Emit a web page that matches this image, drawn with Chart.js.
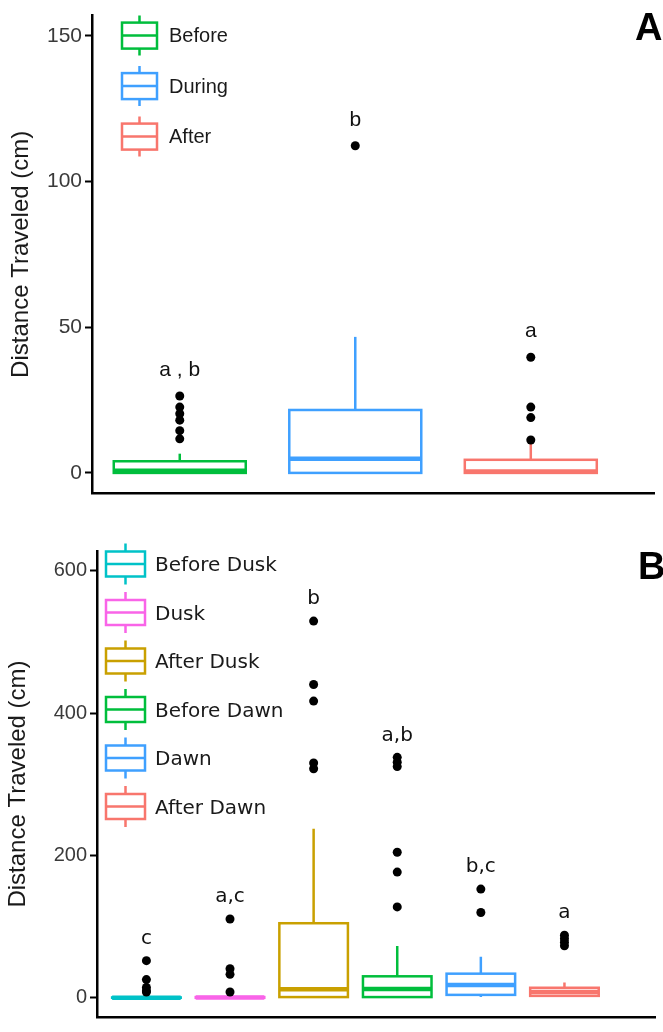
<!DOCTYPE html>
<html><head><meta charset="utf-8">
<script src="https://cdn.jsdelivr.net/npm/chart.js@4.4.1/dist/chart.umd.min.js"></script>
<style>
html,body{margin:0;padding:0;background:#fff;}
#wa{position:absolute;left:0;top:0;width:663px;height:510px;}
#wb{position:absolute;left:0;top:520px;width:663px;height:512px;}
</style></head><body>
<div id="wa"><canvas id="ca"></canvas></div>
<div id="wb"><canvas id="cb"></canvas></div>
<script>
// ---------- Panel A data ----------
const categoriesA = ['Before', 'During', 'After'];
const lowA    = [0, 0, 0];
const q1A     = [0, 0, 0];
const medianA = [0.7, 4.9, 0.5];
const q3A     = [4.0, 21.6, 4.5];
const highA   = [6.6, 46.7, 10];
const outliersA = [
  [26.4, 22.6, 20.3, 18.1, 14.5, 11.7],
  [112.3],
  [39.7, 22.6, 19.0, 11.3]
];
const lettersA = ['a , b', 'b', 'a'];
const ticksA = [0, 50, 100, 150];
const colorsA = ['#00BE3C', '#3FA0FF', '#F8766D'];

// ---------- Panel B data ----------
const categoriesB = ['Before Dusk', 'Dusk', 'After Dusk', 'Before Dawn', 'Dawn', 'After Dawn'];
const lowB    = [0, 0, 0, 0, 1, 2.7];
const q1B     = [0, 0, 1, 1, 4.1, 2.7];
const medianB = [0, 0.5, 12, 12.4, 17.9, 8];
const q3B     = [0.5, 1, 104.8, 30.2, 33.9, 14.1];
const highB   = [0.5, 1, 237.5, 72.8, 57.7, 21.5];
const outliersB = [
  [52.2, 25.6, 14.6, 10, 8],
  [110.8, 40.8, 33.0, 8.2],
  [529.5, 440.3, 417, 330, 322],
  [338, 331, 325, 204.6, 176.7, 127.7],
  [152.8, 119.9],
  [88, 83, 78, 73]
];
const lettersB = ['c', 'a,c', 'b', 'a,b', 'b,c', 'a'];
const ticksB = [0, 200, 400, 600];
const colorsB = ['#00C2C8', '#F964E8', '#C9A000', '#00BE3C', '#3FA0FF', '#F8766D'];

const yTitle = 'Distance Traveled (cm)';

function drawGlyph(ctx, x, yc, w, hb, ext, color) {
  ctx.save();
  ctx.strokeStyle = color;
  ctx.lineWidth = 2.5;
  ctx.strokeRect(x, yc - hb / 2, w, hb);
  ctx.beginPath();
  ctx.moveTo(x, yc); ctx.lineTo(x + w, yc);
  ctx.moveTo(x + w / 2, yc - hb / 2); ctx.lineTo(x + w / 2, yc - hb / 2 - ext);
  ctx.moveTo(x + w / 2, yc + hb / 2); ctx.lineTo(x + w / 2, yc + hb / 2 + ext);
  ctx.stroke();
  ctx.restore();
}

function boxPlugin(cfg) {
  return {
    id: 'boxes_' + cfg.id,
    beforeDatasetsDraw(chart) {
      const ctx = chart.ctx, xs = chart.scales.x, ys = chart.scales.y;
      ctx.save();
      for (let i = 0; i < cfg.cats.length; i++) {
        const c = xs.getPixelForValue(i + 1);
        const hw = xs.getPixelForValue(i + 1 + cfg.halfWidth) - c;
        const yq1 = ys.getPixelForValue(cfg.q1[i]);
        const yq3 = ys.getPixelForValue(cfg.q3[i]);
        const ym = ys.getPixelForValue(cfg.med[i]);
        const ylo = ys.getPixelForValue(cfg.low[i]);
        const yhi = ys.getPixelForValue(cfg.high[i]);
        ctx.strokeStyle = cfg.colors[i];
        ctx.lineWidth = 2.5;
        ctx.beginPath();
        ctx.moveTo(c, yq3); ctx.lineTo(c, yhi);
        ctx.moveTo(c, yq1); ctx.lineTo(c, ylo);
        ctx.stroke();
        ctx.fillStyle = '#fff';
        ctx.fillRect(c - hw, yq3, 2 * hw, yq1 - yq3);
        ctx.strokeRect(c - hw, yq3, 2 * hw, yq1 - yq3);
        ctx.lineWidth = 4.5;
        ctx.beginPath();
        ctx.moveTo(c - hw, ym); ctx.lineTo(c + hw, ym);
        ctx.stroke();
      }
      ctx.restore();
    },
    afterDatasetsDraw(chart) {
      const ctx = chart.ctx, xs = chart.scales.x, ys = chart.scales.y, area = chart.chartArea;
      ctx.save();
      ctx.fillStyle = '#111';
      ctx.font = cfg.letterFont;
      ctx.textAlign = 'center';
      ctx.textBaseline = 'middle';
      for (let i = 0; i < cfg.cats.length; i++) {
        const top = Math.max(cfg.high[i], ...cfg.outliers[i]);
        ctx.fillText(cfg.letters[i], xs.getPixelForValue(i + 1), ys.getPixelForValue(top) - cfg.letterGap);
      }
      const L = cfg.legend;
      for (let i = 0; i < cfg.cats.length; i++) {
        const yc = area.top + L.first + L.step * i;
        drawGlyph(ctx, area.left + L.dx, yc, L.w, L.hb, L.ext, cfg.colors[i]);
        ctx.fillStyle = '#1a1a1a';
        ctx.font = L.font;
        ctx.textAlign = 'left';
        ctx.textBaseline = 'middle';
        ctx.fillText(cfg.cats[i], area.left + L.tx, yc + L.tdy);
      }
      ctx.fillStyle = '#000';
      ctx.font = 'bold 38px "Liberation Sans", Arial, sans-serif';
      ctx.textAlign = 'left';
      ctx.textBaseline = 'middle';
      ctx.fillText(cfg.tag, cfg.tagX, cfg.tagY);
      ctx.restore();
    }
  };
}

function makeChart(canvasId, cfg) {
  const pts = [];
  cfg.outliers.forEach((arr, i) => arr.forEach(v => pts.push({ x: i + 1, y: v })));
  return new Chart(document.getElementById(canvasId), {
    type: 'scatter',
    data: { datasets: [{ data: pts, pointRadius: 4.5, pointHoverRadius: 4.5, backgroundColor: '#000', borderColor: '#000', borderWidth: 0 }] },
    options: {
      responsive: true, maintainAspectRatio: false, animation: false,
      layout: { padding: cfg.padding },
      plugins: { legend: { display: false }, tooltip: { enabled: false } },
      scales: {
        x: {
          type: 'linear', min: cfg.xmin, max: cfg.xmax,
          ticks: { display: false }, grid: { display: false },
          border: { display: true, color: '#000', width: 2.5 },
          afterFit: s => { s.height = cfg.xh; }
        },
        y: {
          type: 'linear', min: cfg.ymin, max: cfg.ymax,
          afterBuildTicks: s => { s.ticks = cfg.ticks.map(v => ({ value: v })); },
          ticks: { font: { family: '"Liberation Sans", Arial, sans-serif', size: cfg.tickSize }, color: '#3a3a3a', padding: 3 },
          grid: { display: true, drawOnChartArea: false, drawTicks: true, tickLength: 7, tickWidth: 2, tickColor: '#000' },
          border: { display: true, color: '#000', width: 2.5 },
          title: { display: true, text: yTitle, font: { family: '"Liberation Sans", Arial, sans-serif', size: 24 }, color: '#1a1a1a', padding: { top: cfg.titlePad, bottom: 0 } },
          afterFit: s => { s.width = cfg.yw; }
        }
      }
    },
    plugins: [boxPlugin(cfg)]
  });
}

makeChart('ca', {
  id: 'A', cats: categoriesA, low: lowA, q1: q1A, med: medianA, q3: q3A, high: highA,
  outliers: outliersA, letters: lettersA, ticks: ticksA, colors: colorsA,
  xmin: 0.5, xmax: 3.702, ymin: -6.9, ymax: 157, halfWidth: 0.376,
  padding: { top: 10, right: 9, left: 0, bottom: 0 }, xh: 17, yw: 92, titlePad: 7, tickSize: 21,
  letterFont: '21px "Liberation Sans", Arial, sans-serif', letterGap: 26,
  legend: { dx: 30, w: 35, hb: 26, ext: 7, first: 20, step: 50.5, tx: 77, tdy: 1, font: '20px "Liberation Sans", Arial, sans-serif' },
  tag: 'A', tagX: 635, tagY: 30
});

makeChart('cb', {
  id: 'B', cats: categoriesB, low: lowB, q1: q1B, med: medianB, q3: q3B, high: highB,
  outliers: outliersB, letters: lettersB, ticks: ticksB, colors: colorsB,
  xmin: 0.409, xmax: 7.083, ymin: -27, ymax: 628, halfWidth: 0.41,
  padding: { top: 31, right: 8, left: 0, bottom: 0 }, xh: 4, yw: 97, titlePad: 4, tickSize: 20,
  letterFont: '20px "DejaVu Sans", sans-serif', letterGap: 22,
  legend: { dx: 9, w: 39, hb: 25, ext: 8, first: 13, step: 48.5, tx: 58, tdy: 2, font: '20px "DejaVu Sans", sans-serif' },
  tag: 'B', tagX: 638, tagY: 49
});
</script>
</body></html>
